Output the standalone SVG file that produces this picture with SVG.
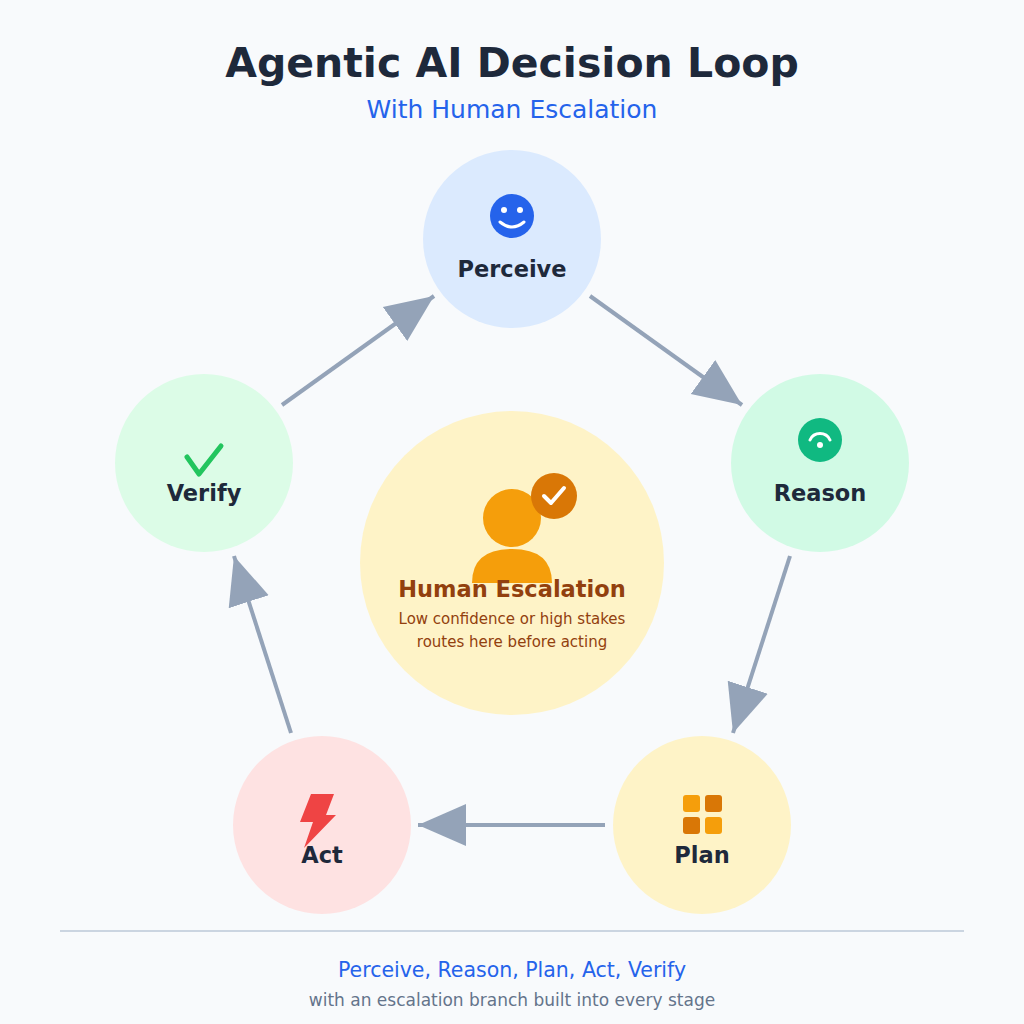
<svg xmlns="http://www.w3.org/2000/svg" width="1024" height="1024" viewBox="0 0 1024 1024">
<style>
text{font-family:"DejaVu Sans","Liberation Sans",sans-serif;text-anchor:middle}
.lbl{font-size:22.5px;font-weight:bold;fill:#1e293b}
.conn{stroke:#94a3b8;stroke-width:4;fill:none;marker-end:url(#ah)}
</style>
<defs>
<marker id="ah" markerUnits="userSpaceOnUse" markerWidth="52" markerHeight="46" refX="48" refY="23" orient="auto">
<path d="M0,2 L48,23 L0,44 Z" fill="#94a3b8"/>
</marker>
</defs>
<rect width="1024" height="1024" fill="#f8fafc"/>
<text x="512" y="77" style="font-size:41px;font-weight:bold;fill:#1e293b">Agentic AI Decision Loop</text>
<text x="512" y="118" style="font-size:25px;fill:#2563eb">With Human Escalation</text>
<g id="connectors">
<line class="conn" x1="590" y1="296" x2="742" y2="405"/>
<line class="conn" x1="790" y1="556" x2="733" y2="733"/>
<line class="conn" x1="605" y1="825" x2="418" y2="825"/>
<line class="conn" x1="291" y1="733" x2="234" y2="556"/>
<line class="conn" x1="282" y1="405" x2="434" y2="296"/>
</g>
<g id="human">
<circle cx="512" cy="563" r="152" fill="#fef3c7"/>
<circle cx="512" cy="518" r="29" fill="#f59e0b"/>
<path d="M472,583 Q472,549 512,549 Q552,549 552,583 Z" fill="#f59e0b"/>
<circle cx="554" cy="496" r="23" fill="#d97706"/>
<path d="M544,496 L551,503 L564,488" stroke="#fff" stroke-width="4" fill="none" stroke-linecap="round" stroke-linejoin="round"/>
<text x="512" y="597" style="font-size:22.5px;font-weight:bold;fill:#92400e">Human Escalation</text>
<text x="512" y="624" style="font-size:15px;fill:#92400e">Low confidence or high stakes</text>
<text x="512" y="647" style="font-size:15px;fill:#92400e">routes here before acting</text>
</g>
<g id="perceive">
<circle cx="512" cy="239" r="89" fill="#dbeafe"/>
<circle cx="512" cy="216" r="22" fill="#2563eb"/>
<circle cx="504" cy="210" r="3" fill="#fff"/><circle cx="520" cy="210" r="3" fill="#fff"/>
<path d="M500,222 Q512,232 524,222" stroke="#fff" stroke-width="3" fill="none" stroke-linecap="round"/>
<text class="lbl" x="512" y="277">Perceive</text>
</g>
<g id="reason">
<circle cx="820" cy="463" r="89" fill="#d1fae5"/>
<circle cx="820" cy="440" r="22" fill="#10b981"/>
<path d="M810,440 A11,11 0 0 1 830,440" stroke="#fff" stroke-width="3" fill="none" stroke-linecap="round"/>
<circle cx="820" cy="445" r="3" fill="#fff"/>
<text class="lbl" x="820" y="501">Reason</text>
</g>
<g id="plan">
<circle cx="702" cy="825" r="89" fill="#fef3c7"/>
<rect x="683" y="795" width="17" height="17" rx="3" fill="#f59e0b"/>
<rect x="705" y="795" width="17" height="17" rx="3" fill="#d97706"/>
<rect x="683" y="817" width="17" height="17" rx="3" fill="#d97706"/>
<rect x="705" y="817" width="17" height="17" rx="3" fill="#f59e0b"/>
<text class="lbl" x="702" y="863">Plan</text>
</g>
<g id="act">
<circle cx="322" cy="825" r="89" fill="#fee2e2"/>
<path d="M311,794 L334,794 L326,815 L336,815 L304,848 L313,822 L300,822 Z" fill="#ef4444"/>
<text class="lbl" x="322" y="863">Act</text>
</g>
<g id="verify">
<circle cx="204" cy="463" r="89" fill="#dcfce7"/>
<path d="M187,457 L199,474 L221,446" stroke="#22c55e" stroke-width="5" fill="none" stroke-linecap="round" stroke-linejoin="round"/>
<text class="lbl" x="204" y="501">Verify</text>
</g>
<line x1="60" y1="931" x2="964" y2="931" stroke="#cbd5e1" stroke-width="2"/>
<text x="512" y="977" style="font-size:20.5px;fill:#2563eb">Perceive, Reason, Plan, Act, Verify</text>
<text x="512" y="1006" style="font-size:17px;fill:#64748b">with an escalation branch built into every stage</text>
</svg>
